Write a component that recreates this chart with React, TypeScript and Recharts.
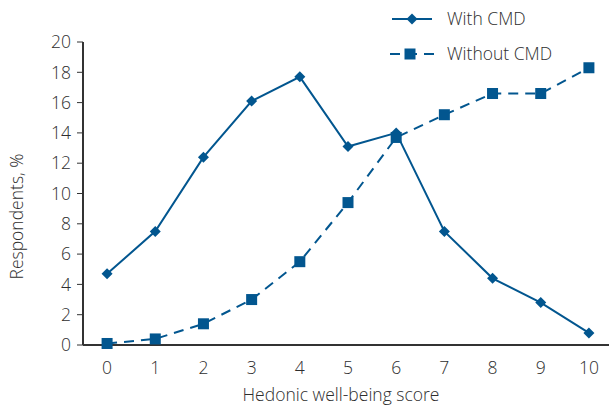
import { LineChart, Line, XAxis, YAxis } from 'recharts';

const scores = [0, 1, 2, 3, 4, 5, 6, 7, 8, 9, 10];
const withCmd = [4.7, 7.5, 12.4, 16.1, 17.7, 13.1, 14.0, 7.5, 4.4, 2.8, 0.8];
const withoutCmd = [0.1, 0.4, 1.4, 3.0, 5.5, 9.4, 13.7, 15.2, 16.6, 16.6, 18.3];
const yTicks = [0, 2, 4, 6, 8, 10, 12, 14, 16, 18, 20];

const BLUE = '#02568f';
const TEXT = '#2e2e2e';
const FONT = '"Open Sans", "Noto Sans", sans-serif';
const FS = 17.5;

const data = scores.map((s, i) => ({ score: s, withCmd: withCmd[i], withoutCmd: withoutCmd[i] }));

// eslint-disable-next-line @typescript-eslint/no-explicit-any
const Diamond = ({ cx, cy, index }: any) => (
  <path key={`d-${index}`} d={`M${cx},${cy - 5.5} L${cx + 5.5},${cy} L${cx},${cy + 5.5} L${cx - 5.5},${cy} Z`} fill={BLUE} />
);

// eslint-disable-next-line @typescript-eslint/no-explicit-any
const Square = ({ cx, cy, index }: any) => (
  <rect key={`s-${index}`} x={cx - 5.5} y={cy - 5.5} width={11} height={11} fill={BLUE} />
);

const LegendBox = () => (
  <div style={{ position: 'absolute', left: 390, top: 0, width: 219, height: 70, fontFamily: FONT, fontSize: FS, fontWeight: 300, color: TEXT }}>
    <svg width={60} height={70} style={{ position: 'absolute', left: 0, top: 0 }}>
      <line x1={2} y1={19} x2={42} y2={19} stroke={BLUE} strokeWidth={2} />
      <path d="M22,13.5 L27.5,19 L22,24.5 L16.5,19 Z" fill={BLUE} />
      <line x1={0} y1={54} x2={50} y2={54} stroke={BLUE} strokeWidth={2} strokeDasharray="10 7" />
      <rect x={14.5} y={48.5} width={11} height={11} fill={BLUE} />
    </svg>
    <span style={{ position: 'absolute', left: 57, top: 6, whiteSpace: 'nowrap' }}>With CMD</span>
    <span style={{ position: 'absolute', left: 57, top: 41, whiteSpace: 'nowrap' }}>Without CMD</span>
  </div>
);

const tickStyle = { fill: TEXT, fontSize: FS, fontFamily: FONT, fontWeight: 300 };

export default function App() {
  return (
    <div style={{ position: 'absolute', left: 0, top: 0, width: 609, height: 406, overflow: 'hidden', background: '#fff' }}>
      <LineChart width={613} height={406} data={data} margin={{ top: 42, right: 0, bottom: 0, left: 0 }}>
        <XAxis
          dataKey="score"
          type="number"
          domain={[-0.5, 10.5]}
          ticks={scores}
          tickLine={false}
          axisLine={{ stroke: '#333', strokeWidth: 2 }}
          tick={tickStyle}
          tickMargin={11}
          height={61}
          label={{ value: 'Hedonic well-being score', position: 'insideBottom', offset: 5, dx: -7, ...tickStyle }}
        />
        <YAxis
          domain={[0, 20]}
          ticks={yTicks}
          width={83}
          tickSize={6}
          tickLine={{ stroke: '#333' }}
          axisLine={{ stroke: '#333', strokeWidth: 2 }}
          tick={tickStyle}
          tickMargin={6}
          label={{ value: 'Respondents, %', angle: -90, position: 'insideLeft', offset: 17, dy: 86, ...tickStyle }}
        />
        <Line
          dataKey="withCmd"
          stroke={BLUE}
          strokeWidth={2}
          dot={<Diamond />}
          activeDot={false}
          isAnimationActive={false}
        />
        <Line
          dataKey="withoutCmd"
          stroke={BLUE}
          strokeWidth={2}
          strokeDasharray="10 7"
          dot={<Square />}
          activeDot={false}
          isAnimationActive={false}
        />
      </LineChart>
      <LegendBox />
    </div>
  );
}
